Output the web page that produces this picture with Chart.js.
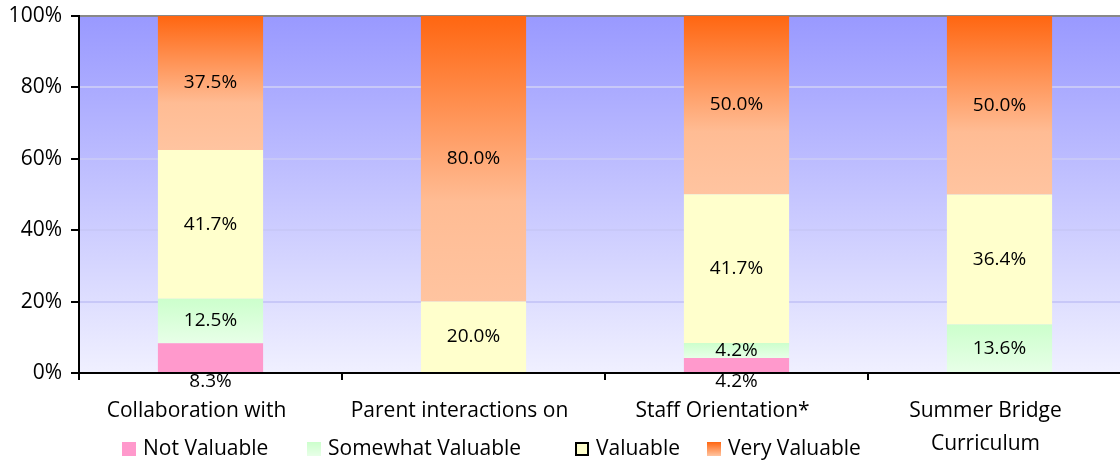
<!DOCTYPE html>
<html>
<head>
<meta charset="utf-8">
<script src="https://cdn.jsdelivr.net/npm/chart.js@4/dist/chart.umd.min.js"></script>
<style>
  html, body { margin: 0; padding: 0; background: #fff; overflow: hidden; }
  #wrap { position: relative; width: 1120px; height: 460px; overflow: hidden; }
  #myChart { position: absolute; left: 0; top: 0; }
  .leg { position: absolute; top: 435px; font: 21px "Open Sans", sans-serif; color: #000; white-space: nowrap; line-height: 24px; }
  .leg span.box { display: inline-block; width: 14px; height: 14px; margin-right: 7px; vertical-align: -1px; box-sizing: border-box; }
</style>
</head>
<body>
<div id="wrap">
  <canvas id="myChart" width="1131" height="460"></canvas>
  <div id="legend"></div>
</div>
<script>
var categories = [["Collaboration with"], ["Parent interactions on"], ["Staff Orientation*"], ["Summer Bridge", "Curriculum"]];
var seriesNames = ["Not Valuable", "Somewhat Valuable", "Valuable", "Very Valuable"];
var notValuable = [8.3, 0, 4.2, 0];
var somewhatValuable = [12.5, 0, 4.2, 13.6];
var valuable = [41.7, 20.0, 41.7, 36.4];
var veryValuable = [37.5, 80.0, 50.0, 50.0];
var yTicks = [0, 20, 40, 60, 80, 100];

var allSeries = [notValuable, somewhatValuable, valuable, veryValuable];
var fontFam = '"Open Sans", sans-serif';

// gradient for a segment, spanning that segment only
function segGradient(ctx, stops) {
  var chart = ctx.chart;
  var y = chart.scales.y;
  if (!y || !chart.chartArea) return stops[0][1];
  var d = ctx.datasetIndex, i = ctx.dataIndex;
  var base = 0;
  for (var k = 0; k < d; k++) base += allSeries[k][i];
  var top = base + allSeries[d][i];
  var y0 = y.getPixelForValue(top), y1 = y.getPixelForValue(base);
  if (!isFinite(y0) || !isFinite(y1) || y0 === y1) return stops[0][1];
  var g = chart.ctx.createLinearGradient(0, y0, 0, y1);
  stops.forEach(function(s) { g.addColorStop(s[0], s[1]); });
  return g;
}
var greenStops = [[0, "#CCFFCC"], [1, "#E8FFE8"]];
var orangeStops = [[0, "#FF6611"], [0.65, "#FFBC94"], [1, "#FFC4A0"]];

var plotBg = {
  id: 'plotBg',
  beforeDraw: function(chart) {
    var a = chart.chartArea, c = chart.ctx;
    var g = c.createLinearGradient(0, a.top, 0, a.bottom);
    g.addColorStop(0, "#9999FF");
    g.addColorStop(1, "#F0F0FF");
    c.save();
    c.fillStyle = g;
    c.fillRect(a.left, a.top, a.right - a.left, a.bottom - a.top);
    c.restore();
  }
};

var valueLabels = {
  id: 'valueLabels',
  afterDatasetsDraw: function(chart) {
    var c = chart.ctx;
    c.save();
    c.font = '19px ' + fontFam;
    c.fillStyle = '#000';
    c.textAlign = 'center';
    c.textBaseline = 'middle';
    chart.data.datasets.forEach(function(ds, d) {
      var meta = chart.getDatasetMeta(d);
      meta.data.forEach(function(bar, i) {
        var v = ds.data[i];
        if (!v) return;
        var y = d === 0 ? chart.chartArea.bottom + 9 : (bar.y + bar.base) / 2;
        c.fillText(v.toFixed(1) + '%', bar.x, y);
      });
    });
    c.restore();
  }
};

function noPad(s) { s.paddingTop = 0; s.paddingBottom = 0; s.paddingLeft = 0; s.paddingRight = 0; }

var ctx = document.getElementById('myChart').getContext('2d');
var myChart = new Chart(ctx, {
  type: 'bar',
  data: {
    labels: categories,
    datasets: [
      { label: seriesNames[0], data: notValuable, backgroundColor: "#FF99CC" },
      { label: seriesNames[1], data: somewhatValuable, backgroundColor: function(c) { return segGradient(c, greenStops); } },
      { label: seriesNames[2], data: valuable, backgroundColor: "#FFFFCC" },
      { label: seriesNames[3], data: veryValuable, backgroundColor: function(c) { return segGradient(c, orangeStops); } }
    ]
  },
  options: {
    responsive: false,
    animation: false,
    layout: { padding: { top: 16, right: 0, bottom: 0, left: 0 } },
    datasets: { bar: { barPercentage: 0.4, categoryPercentage: 1.0, borderWidth: 0 } },
    plugins: { legend: { display: false }, tooltip: { enabled: false } },
    scales: {
      x: {
        stacked: true,
        afterFit: function(s) { s.height = 87; noPad(s); },
        border: { color: '#000', width: 2 },
        grid: { drawOnChartArea: false, drawTicks: true, tickLength: 7, color: '#000', lineWidth: 2 },
        ticks: { color: '#000', font: { family: fontFam, size: 21, lineHeight: 1.6 }, padding: 14, labelOffset: -14, maxRotation: 0, autoSkip: false }
      },
      y: {
        stacked: true,
        min: 0,
        max: 100,
        afterFit: function(s) { s.width = 79; noPad(s); },
        afterBuildTicks: function(s) { s.ticks = yTicks.map(function(v) { return { value: v }; }); },
        border: { color: '#000', width: 2 },
        grid: {
          color: function(c) { return c.tick && c.tick.value === 100 ? '#888888' : '#C8C8F8'; },
          lineWidth: 2,
          tickColor: '#000',
          tickLength: 8
        },
        ticks: {
          color: '#000',
          font: { family: fontFam, size: 21 },
          padding: 9,
          callback: function(v) { return v + '%'; }
        }
      }
    }
  },
  plugins: [plotBg, valueLabels]
});

// legend, drawn as html under the axis labels
var legendX = [122, 307, 575, 707];
var legendFills = ["#FF99CC", "linear-gradient(#CCFFCC, #E8FFE8)", "#FFFFCC", "linear-gradient(#FF6611, #FFC4A0)"];
var legendEl = document.getElementById('legend');
seriesNames.forEach(function(name, i) {
  var item = document.createElement('div');
  item.className = 'leg';
  item.style.left = legendX[i] + 'px';
  var box = document.createElement('span');
  box.className = 'box';
  box.style.background = legendFills[i];
  if (i === 2) box.style.border = '2px solid #000';
  item.appendChild(box);
  item.appendChild(document.createTextNode(name));
  legendEl.appendChild(item);
});
</script>
</body>
</html>
